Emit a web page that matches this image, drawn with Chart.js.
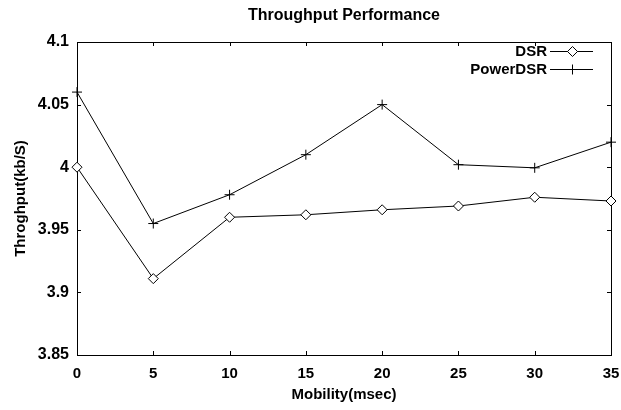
<!DOCTYPE html>
<html>
<head>
<meta charset="utf-8">
<title>Throughput Performance</title>
<script src="https://cdn.jsdelivr.net/npm/chart.js@4.4.1/dist/chart.umd.min.js"></script>
<style>
  html, body { margin: 0; padding: 0; background: #fff; }
  #wrap { width: 621px; height: 410px; }
</style>
</head>
<body>
<div id="wrap"><canvas id="chart" width="621" height="410"></canvas></div>
<script>
  // values
  var mobility = [0, 5, 10, 15, 20, 25, 30, 35];
  var dsr = [4.000, 3.911, 3.960, 3.962, 3.966, 3.969, 3.976, 3.973];
  var powerDsr = [4.060, 3.955, 3.978, 4.010, 4.050, 4.002, 3.9995, 4.020];
  var xTicks = [0, 5, 10, 15, 20, 25, 30, 35];
  var yTicks = [3.85, 3.9, 3.95, 4, 4.05, 4.1];
  var yTickLabels = ['3.85', '3.9', '3.95', '4', '4.05', '4.1'];

  var FONT = "'Liberation Sans', Arial, sans-serif";
  var TICK_LEN = 4;

  function toPoints(xs, ys) {
    return xs.map(function (x, i) { return { x: x, y: ys[i] }; });
  }

  // frame on all four sides with gnuplot-style inner ticks, title and legend
  var framePlugin = {
    id: 'frame',
    beforeDatasetsDraw: function (chart) {
      var ctx = chart.ctx;
      var a = chart.chartArea;
      var xs = chart.scales.x;
      var ys = chart.scales.y;
      ctx.save();
      ctx.strokeStyle = '#000';
      ctx.lineWidth = 1;
      ctx.strokeRect(Math.round(a.left) + 0.5, Math.round(a.top) + 0.5,
        Math.round(a.right - a.left), Math.round(a.bottom - a.top));
      ctx.beginPath();
      xTicks.forEach(function (v) {
        var px = Math.round(xs.getPixelForValue(v)) + 0.5;
        ctx.moveTo(px, a.bottom); ctx.lineTo(px, a.bottom - TICK_LEN);
        ctx.moveTo(px, a.top); ctx.lineTo(px, a.top + TICK_LEN);
      });
      yTicks.forEach(function (v) {
        var py = Math.round(ys.getPixelForValue(v)) + 0.5;
        ctx.moveTo(a.left, py); ctx.lineTo(a.left + TICK_LEN, py);
        ctx.moveTo(a.right, py); ctx.lineTo(a.right - TICK_LEN, py);
      });
      ctx.stroke();
      ctx.restore();
    },
    afterDraw: function (chart) {
      var ctx = chart.ctx;
      var a = chart.chartArea;
      ctx.save();
      ctx.fillStyle = '#000';
      ctx.font = 'bold 16px ' + FONT;
      ctx.textAlign = 'center';
      ctx.textBaseline = 'middle';
      ctx.fillText('Throughput Performance', (a.left + a.right) / 2, 16);

      // legend: text on the left, sample line with marker on the right
      var textRight = a.right - 64;
      var lineL = a.right - 61, lineR = a.right - 18;
      ctx.font = 'bold 15px ' + FONT;
      ctx.textAlign = 'right';
      chart.data.datasets.forEach(function (ds, i) {
        var y = Math.round(a.top + 9 + i * 18) + 0.5;
        ctx.fillStyle = '#000';
        ctx.fillText(ds.label, textRight, y);
        ctx.strokeStyle = '#000';
        ctx.lineWidth = 1;
        ctx.beginPath();
        ctx.moveTo(lineL, y);
        ctx.lineTo(lineR, y);
        ctx.stroke();
        ctx.fillStyle = '#fff';
        Chart.helpers.drawPoint(ctx, {
          pointStyle: ds.pointStyle,
          radius: ds.pointRadius,
          borderWidth: 1
        }, Math.round((lineL + lineR) / 2) + 0.5, y);
      });
      ctx.restore();
    }
  };

  new Chart(document.getElementById('chart'), {
    type: 'line',
    data: {
      datasets: [{
        label: 'DSR',
        data: toPoints(mobility, dsr),
        borderColor: '#000',
        borderWidth: 1,
        pointStyle: 'rectRot',
        pointRadius: 5,
        pointBackgroundColor: '#fff',
        pointBorderColor: '#000',
        pointBorderWidth: 1,
        tension: 0,
        clip: false
      }, {
        label: 'PowerDSR',
        data: toPoints(mobility, powerDsr),
        borderColor: '#000',
        borderWidth: 1,
        pointStyle: 'cross',
        pointRadius: 5,
        pointBackgroundColor: '#fff',
        pointBorderColor: '#000',
        pointBorderWidth: 1,
        tension: 0,
        clip: false
      }]
    },
    options: {
      responsive: false,
      animation: false,
      devicePixelRatio: 1,
      layout: { padding: { left: 0, right: 10, top: 42, bottom: 0 } },
      plugins: {
        legend: { display: false },
        title: { display: false },
        tooltip: { enabled: false }
      },
      scales: {
        x: {
          type: 'linear',
          min: 0,
          max: 35,
          grid: { display: false, drawTicks: false },
          border: { display: false },
          afterBuildTicks: function (s) {
            s.ticks = xTicks.map(function (v) { return { value: v }; });
          },
          afterFit: function (s) {
            s.height = 55;
            s.paddingLeft = 0;
            s.paddingRight = 0;
          },
          ticks: {
            color: '#000',
            padding: 10,
            maxRotation: 0,
            font: { family: FONT, size: 15, weight: 'bold' },
            callback: function (v) { return String(v); }
          },
          title: {
            display: true,
            text: 'Mobility(msec)',
            color: '#000',
            padding: { top: 0, bottom: 6 },
            font: { family: FONT, size: 15, weight: 'bold' }
          }
        },
        y: {
          min: 3.85,
          max: 4.1,
          grid: { display: false, drawTicks: false },
          border: { display: false },
          afterBuildTicks: function (s) {
            s.ticks = yTicks.map(function (v) { return { value: v }; });
          },
          afterFit: function (s) {
            s.width = 77;
            s.paddingTop = 0;
            s.paddingBottom = 0;
          },
          ticks: {
            color: '#000',
            padding: 8,
            font: { family: FONT, size: 16, weight: 'bold' },
            callback: function (v, i) { return yTickLabels[i]; }
          },
          title: {
            display: true,
            text: 'Throghput(kb/S)',
            color: '#000',
            padding: { top: 12, bottom: 0 },
            font: { family: FONT, size: 15, weight: 'bold' }
          }
        }
      }
    },
    plugins: [framePlugin]
  });
</script>
</body>
</html>
